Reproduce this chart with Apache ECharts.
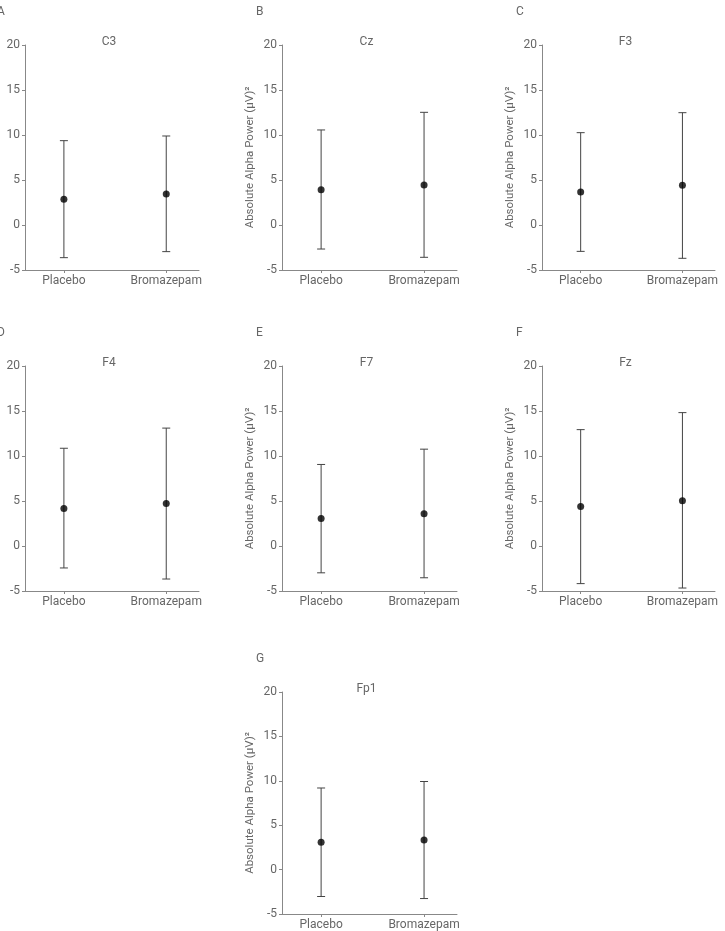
<!DOCTYPE html>
<html>
<head>
<meta charset="utf-8">
<script src="https://cdn.jsdelivr.net/npm/echarts@6/dist/echarts.min.js"></script>
<style>
  html, body { margin: 0; padding: 0; background: #fff; }
  #chart { width: 725px; height: 931px; }
</style>
</head>
<body>
<div id="chart"></div>
<script>
// values (mean and error bar ends, per electrode)
const groups = ['Placebo', 'Bromazepam'];
const panelLetters = ['A', 'B', 'C', 'D', 'E', 'F', 'G'];
const electrodes = ['C3', 'Cz', 'F3', 'F4', 'F7', 'Fz', 'Fp1'];
const placeboMean = [2.85, 3.93, 3.67, 4.16, 3.06, 4.38, 3.08];
const placeboLow = [-3.63, -2.67, -2.93, -2.44, -2.98, -4.18, -3.03];
const placeboHigh = [9.37, 10.56, 10.26, 10.86, 9.06, 12.93, 9.19];
const bromMean = [3.44, 4.44, 4.41, 4.71, 3.57, 5.04, 3.33];
const bromLow = [-2.96, -3.59, -3.70, -3.67, -3.53, -4.67, -3.26];
const bromHigh = [9.89, 12.52, 12.48, 13.10, 10.76, 14.82, 9.92];
const yMin = -5, yMax = 20, yStep = 5;
const yTitle = 'Absolute Alpha Power (μV)²';

// panel boxes: left, top, width, height
const boxes = [
    [25, 45, 174, 225], [282, 45, 175, 225], [542, 45, 173, 225],
    [25, 366, 174, 225], [282, 366, 175, 225], [542, 366, 173, 225],
    [282, 692, 175, 224]
];
const showYTitle = [false, true, true, false, true, true, true];

const font = 'Roboto, "Liberation Sans", sans-serif';
const textColor = '#666';
const axisColor = '#888';

const grid = [], xAxis = [], yAxis = [], series = [], graphic = [];

electrodes.forEach((name, i) => {
    const [l, t, w, h] = boxes[i];
    grid.push({ left: l, top: t, width: w, height: h });
    xAxis.push({
        type: 'value', gridIndex: i, min: -0.38, max: 1.32,
        splitLine: { show: false },
        axisLine: { onZero: false, lineStyle: { color: axisColor, width: 1 } },
        axisTick: { customValues: [0, 1], length: 3, lineStyle: { color: axisColor } },
        axisLabel: {
            customValues: [0, 1], margin: 5, color: textColor, fontSize: 12, fontFamily: font,
            formatter: v => groups[Math.round(v)]
        }
    });
    yAxis.push({
        type: 'value', gridIndex: i, min: yMin, max: yMax, interval: yStep,
        splitLine: { show: false },
        axisLine: { show: true, onZero: false, lineStyle: { color: axisColor, width: 1 } },
        axisTick: { show: true, length: 3, lineStyle: { color: axisColor } },
        axisLabel: { margin: 5, color: textColor, fontSize: 12, fontFamily: font },
        name: showYTitle[i] ? yTitle : '',
        nameLocation: 'middle', nameGap: 26,
        nameTextStyle: { color: textColor, fontSize: 11.5, fontFamily: font }
    });
    series.push({
        type: 'custom', xAxisIndex: i, yAxisIndex: i,
        data: [[0, placeboLow[i], placeboHigh[i]], [1, bromLow[i], bromHigh[i]]],
        renderItem: (params, api) => {
            const lo = api.coord([api.value(0), api.value(1)]);
            const hi = api.coord([api.value(0), api.value(2)]);
            const cap = 4;
            const style = { stroke: '#444', lineWidth: 1 };
            return {
                type: 'group',
                children: [
                    { type: 'line', shape: { x1: lo[0], y1: lo[1], x2: hi[0], y2: hi[1] }, style },
                    { type: 'line', shape: { x1: lo[0] - cap, y1: lo[1], x2: lo[0] + cap, y2: lo[1] }, style },
                    { type: 'line', shape: { x1: hi[0] - cap, y1: hi[1], x2: hi[0] + cap, y2: hi[1] }, style }
                ]
            };
        },
        silent: true
    });
    series.push({
        type: 'scatter', xAxisIndex: i, yAxisIndex: i,
        data: [[0, placeboMean[i]], [1, bromMean[i]]],
        symbolSize: 7,
        itemStyle: { color: '#000' },
        z: 5
    });
    // electrode title, centred over the plot
    graphic.push({
        type: 'text', x: l + w / 2 - 3, y: t - 9,
        style: { text: name, fill: textColor, font: '12px ' + font, textAlign: 'center', textVerticalAlign: 'top' }
    });
    // panel letter
    graphic.push({
        type: 'text', x: l < 100 ? -3 : l - 26, y: t - 33,
        style: { text: panelLetters[i], fill: textColor, font: '12px ' + font, textVerticalAlign: 'middle' }
    });
});

echarts.init(document.getElementById('chart')).setOption({
    animation: false,
    grid, xAxis, yAxis, series, graphic
});
</script>
</body>
</html>
